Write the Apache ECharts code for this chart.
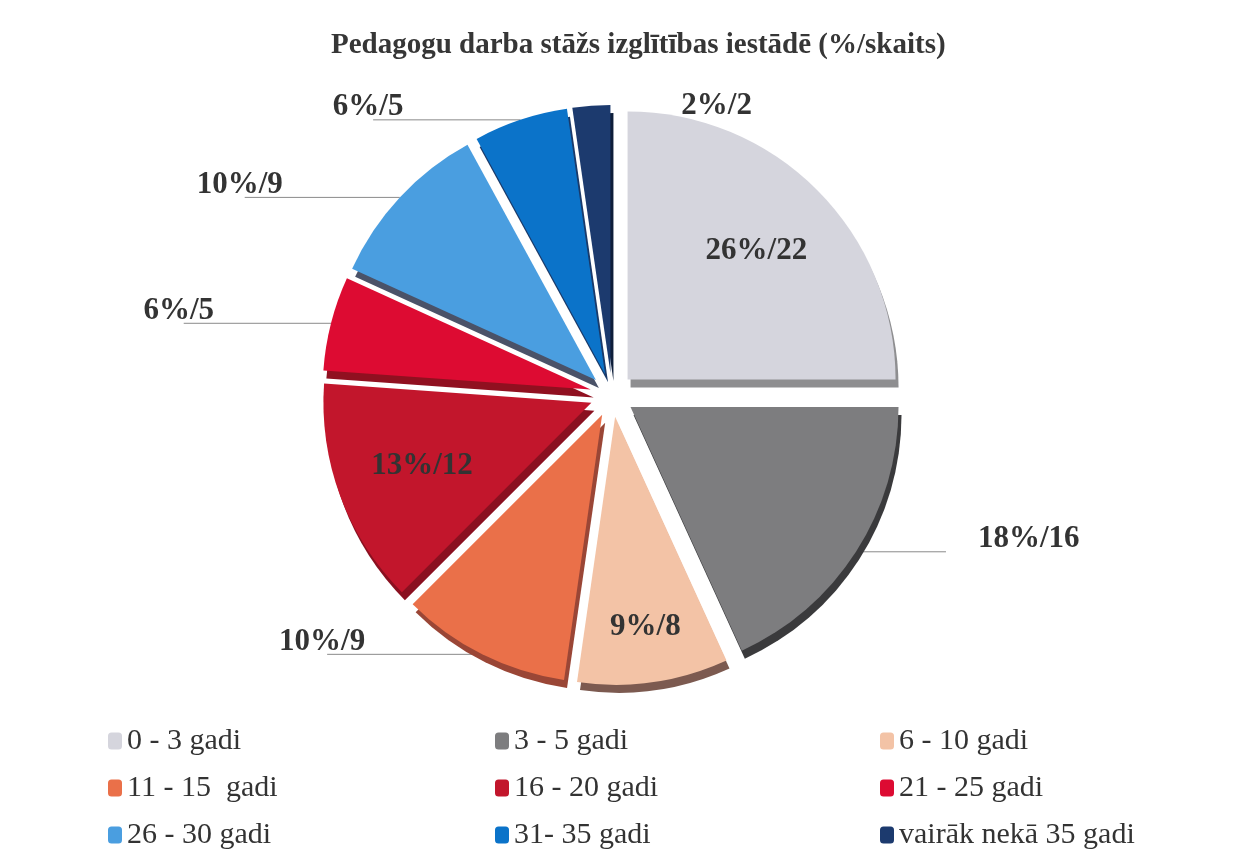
<!DOCTYPE html>
<html>
<head>
<meta charset="utf-8">
<script src="https://cdn.jsdelivr.net/npm/echarts@6/dist/echarts.min.js"></script>
<style>
  html, body { margin: 0; padding: 0; background: #fff; }
  #chart { width: 1249px; height: 855px; }
</style>
</head>
<body>
<div id="chart"></div>
<script>
// dati no attēla
const categories = ['0 - 3 gadi', '3 - 5 gadi', '6 - 10 gadi', '11 - 15  gadi', '16 - 20 gadi',
  '21 - 25 gadi', '26 - 30 gadi', '31- 35 gadi', 'vairāk nekā 35 gadi'];
const counts = [22, 16, 8, 9, 12, 5, 9, 5, 2];
const percentLabels = ['26%', '18%', '9%', '10%', '13%', '6%', '10%', '6%', '2%'];

const colors = ['#d5d5dd', '#7d7d7f', '#f3c3a6', '#ea7049', '#c2162c', '#dd0b32', '#4a9ee0', '#0b73c9', '#1c3a6e'];
const sideColors = ['#8e8e90', '#3a3a3c', '#7c5a50', '#9a4636', '#8a1020', '#901020', '#4a5268', '#1a3a6a', '#0e1e3a'];

// iekšējās etiķetes un to attālums no centra
const insideScale = { 0: 1.33, 2: 1.55, 4: 1.32 };
const legendCols = [[0, 3, 6], [1, 4, 7], [2, 5, 8]];
const legendLeft = [103, 490, 875];

const serif = "'Liberation Serif', 'Times New Roman', serif";
const pieCenter = [0.49, 0.462];

const myChart = echarts.init(document.getElementById('chart'));

const option = {
  backgroundColor: '#ffffff',
  animation: false,
  title: {
    text: 'Pedagogu darba stāžs izglītības iestādē (%/skaits)',
    left: 326,
    top: 26,
    textStyle: { fontFamily: serif, fontWeight: 'bold', fontSize: 29, color: '#363636' }
  },
  legend: legendCols.map((idx, c) => ({
    orient: 'vertical',
    left: legendLeft[c],
    top: 721,
    itemGap: 17,
    itemWidth: 14,
    itemHeight: 17,
    icon: 'roundRect',
    selectedMode: false,
    data: idx.map(i => categories[i]),
    textStyle: { fontFamily: serif, fontSize: 30, color: '#333' }
  })),
  series: [{
    type: 'pie',
    center: [pieCenter[0] * 100 + '%', pieCenter[1] * 100 + '%'],
    radius: 268,
    startAngle: 90,
    clockwise: true,
    selectedMode: 'multiple',
    selectedOffset: 22,
    avoidLabelOverlap: false,
    emphasis: { disabled: true },
    data: categories.map((name, i) => ({
      name: name,
      value: counts[i],
      selected: true,
      itemStyle: {
        color: colors[i],
        shadowColor: sideColors[i],
        shadowOffsetX: 3,
        shadowOffsetY: 8,
        shadowBlur: 0
      },
      label: insideScale[i] ? { position: 'inside' } : {}
    })),
    label: {
      fontFamily: serif,
      fontWeight: 'bold',
      fontSize: 31,
      color: '#333',
      formatter: p => percentLabels[p.dataIndex] + '/' + counts[p.dataIndex]
    },
    labelLine: {
      show: true,
      length: 0,
      length2: 112,
      lineStyle: { color: '#8a8a8a', width: 1 }
    },
    labelLayout: function (p) {
      const i = p.dataIndex;
      const r = p.labelRect;
      if (insideScale[i]) {
        const cx = myChart.getWidth() * pieCenter[0];
        const cy = myChart.getHeight() * pieCenter[1];
        const lx = r.x + r.width / 2, ly = r.y + r.height / 2;
        const k = insideScale[i] - 1;
        return { dx: (lx - cx) * k, dy: (ly - cy) * k };
      }
      const pts = p.labelLinePoints;
      if (!pts) return {};
      if (i === 8) {
        // 2%/2 etiķete pa labi no šaurā sektora, bez līnijas
        return { dx: pts[0][0] + 90 - r.x, labelLinePoints: [pts[0], pts[0], pts[0]] };
      }
      const left = pts[2][0] < pts[1][0];
      if (left) {
        const end = [pts[2][0] - r.width * 0.5, pts[2][1]];
        return { dy: -r.height / 2 + 3, labelLinePoints: [pts[0], pts[1], end] };
      }
      return { dx: 5, dy: -r.height / 2 + 3, labelLinePoints: [pts[0], pts[1], [pts[2][0] - 22, pts[2][1]]] };
    }
  }]
};

myChart.setOption(option);
</script>
</body>
</html>
